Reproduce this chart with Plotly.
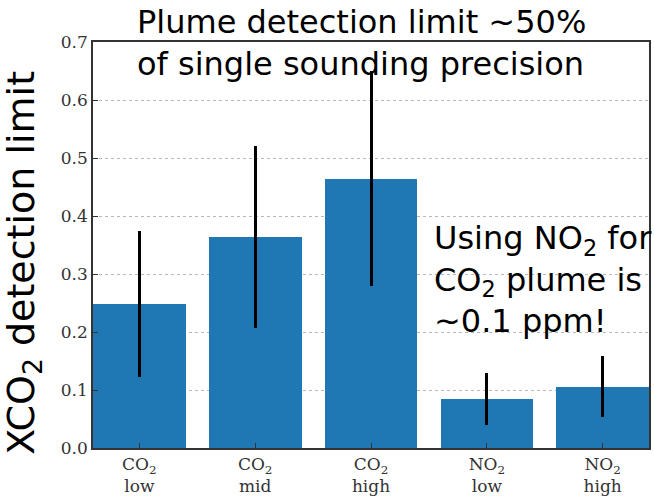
import plotly.graph_objects as go

categories = ["CO<sub>2</sub><br>low", "CO<sub>2</sub><br>mid", "CO<sub>2</sub><br>high",
              "NO<sub>2</sub><br>low", "NO<sub>2</sub><br>high"]
values = [0.248, 0.363, 0.464, 0.084, 0.106]
err_high = [0.374, 0.520, 0.650, 0.130, 0.158]
err_low = [0.123, 0.207, 0.279, 0.040, 0.053]
y_ticks = [0.0, 0.1, 0.2, 0.3, 0.4, 0.5, 0.6, 0.7]

xpos = list(range(len(categories)))
plus = [h - v for h, v in zip(err_high, values)]
minus = [v - l for v, l in zip(values, err_low)]

fig = go.Figure()
fig.add_trace(go.Bar(
    x=xpos, y=values, width=0.8,
    marker=dict(color="#1f77b4", line=dict(width=0)),
    error_y=dict(type="data", symmetric=False, array=plus, arrayminus=minus,
                 color="black", thickness=3, width=0),
))

serif = "DejaVu Serif"
sans = "DejaVu Sans"

fig.update_layout(
    width=654, height=499,
    margin=dict(l=93, r=3, t=42, b=49),
    plot_bgcolor="white", paper_bgcolor="white",
    showlegend=False,
    xaxis=dict(range=[-0.4, 4.4], tickvals=xpos, ticktext=categories,
               showline=True, linecolor="#333333", linewidth=1.5, mirror=True,
               ticks="inside", ticklen=5, tickcolor="#333333", showgrid=False,
               tickfont=dict(family=serif, size=17, color="#333333"), zeroline=False),
    yaxis=dict(range=[0, 0.7], tickvals=y_ticks, tickformat=".1f",
               showline=True, linecolor="#333333", linewidth=1.5, mirror=True,
               ticks="inside", ticklen=5, tickcolor="#333333",
               showgrid=True, gridcolor="#b8b8b8", griddash="dot", gridwidth=1,
               tickfont=dict(family=serif, size=17, color="#333333"), zeroline=False),
    bargap=0,
)

fig.add_annotation(xref="paper", yref="paper", x=-0.125, y=0.455,
                   text="XCO<sub>2</sub> detection limit", textangle=-90,
                   showarrow=False, xanchor="center", yanchor="middle",
                   font=dict(family=sans, size=38, color="black"))

fig.add_annotation(xref="paper", yref="paper", x=0.075, y=1.1,
                   text="Plume detection limit ~50%<br>of single sounding precision",
                   showarrow=False, xanchor="left", yanchor="top", align="left",
                   font=dict(family=sans, size=32, color="black"))

fig.add_annotation(xref="paper", yref="paper", x=0.61, y=0.57,
                   text="Using NO<sub>2</sub> for<br>CO<sub>2</sub> plume is<br>~0.1 ppm!",
                   showarrow=False, xanchor="left", yanchor="top", align="left",
                   font=dict(family=sans, size=32, color="black"))

fig.write_html("out.html")
